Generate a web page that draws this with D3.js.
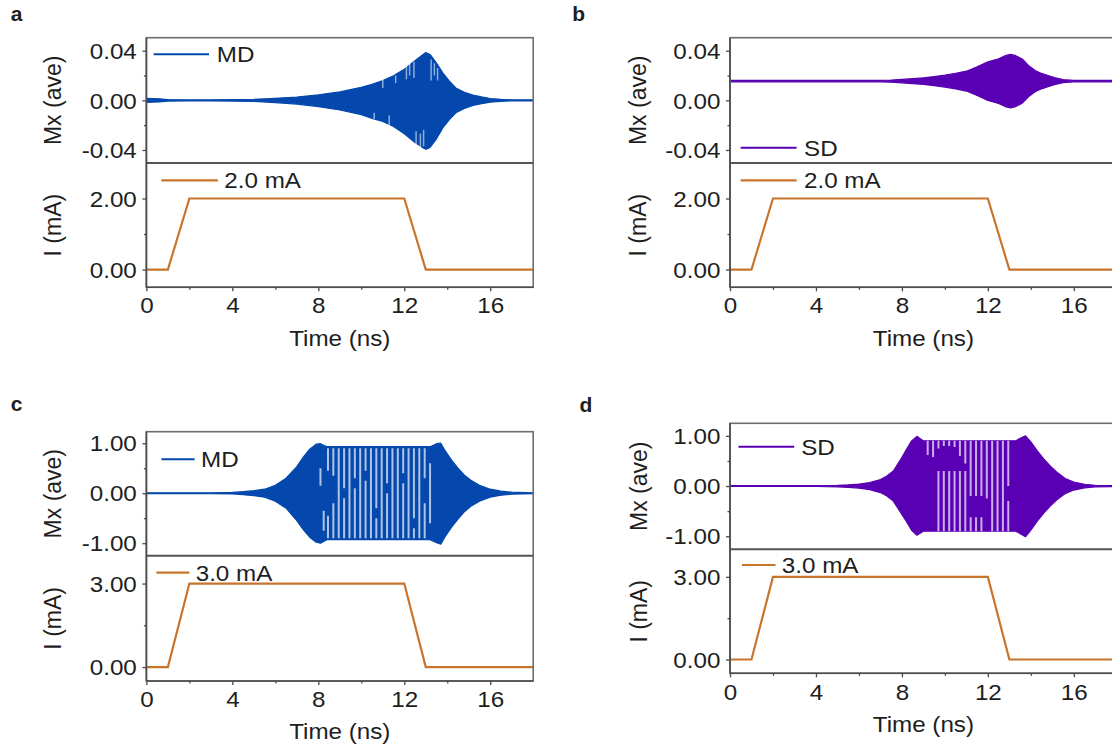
<!DOCTYPE html>
<html>
<head>
<meta charset="utf-8">
<script src="https://cdn.jsdelivr.net/npm/d3@7"></script>
<style>
  html, body { margin: 0; padding: 0; background: #fff; }
  svg { display: block; }
  text { font-family: "Liberation Sans", Arial, sans-serif; fill: #1e1e1e; }
</style>
</head>
<body>
<script>
// ---------- data ----------
const timeTicks = [0, 4, 8, 12, 16];
const timeMinorTicks = [2, 6, 10, 14];

// current pulse (mA) vs time (ns)
const currentTime = [0, 1, 2, 12, 13, 18];
const current2mA = [0, 0, 2, 2, 0, 0];
const current3mA = [0, 0, 3, 3, 0, 0];

// Mx envelopes: MD, 2.0 mA
const aTime  = [0, 0.6, 1, 2, 3, 4, 5, 6, 7, 8, 9, 10, 10.5, 11, 11.5, 12, 12.5, 12.8, 13.0, 13.2, 13.5, 13.8, 14.1, 14.4, 14.8, 15.2, 15.6, 16, 16.5, 17, 18];
const aUpper = [0.0016, 0.0013, 0.0006, 0.0004, 0.0004, 0.0006, 0.0009, 0.0016, 0.0026, 0.0045, 0.0068, 0.0105, 0.013, 0.016, 0.0198, 0.025, 0.032, 0.036, 0.0385, 0.037, 0.030, 0.022, 0.0155, 0.010, 0.0065, 0.0043, 0.0028, 0.0015, 0.0008, 0.0004, 0.0004];
const aLower = [-0.0016, -0.0013, -0.0006, -0.0004, -0.0004, -0.0006, -0.0009, -0.0018, -0.003, -0.005, -0.0078, -0.0115, -0.0145, -0.017, -0.021, -0.027, -0.034, -0.0375, -0.0395, -0.038, -0.031, -0.022, -0.0155, -0.010, -0.0065, -0.004, -0.0027, -0.0015, -0.0008, -0.0004, -0.0004];
const aStreaks = [[10.6, -0.010, -0.015], [11.0, 0.010, 0.017], [11.3, -0.012, -0.020], [11.6, 0.014, 0.020], [12.1, 0.017, 0.029], [12.25, 0.020, 0.030], [12.45, 0.018, 0.031], [12.55, -0.025, -0.036], [12.75, -0.027, -0.038], [12.9, -0.024, -0.037], [13.25, 0.016, 0.033], [13.4, 0.020, 0.030], [13.55, 0.016, 0.026]];

// Mx envelopes: SD, 2.0 mA
const bTime  = [0, 7, 7.5, 8, 8.5, 9, 9.5, 10, 10.5, 11, 11.5, 12, 12.5, 12.8, 13.05, 13.3, 13.6, 13.9, 14.2, 14.5, 14.8, 15.1, 15.5, 16, 18];
const bUpper = [0.0161, 0.0161, 0.0164, 0.0169, 0.0175, 0.0182, 0.0192, 0.0203, 0.0217, 0.0235, 0.0270, 0.0310, 0.0335, 0.0360, 0.0370, 0.0360, 0.0333, 0.0280, 0.0240, 0.0217, 0.0200, 0.0183, 0.0167, 0.0161, 0.0161];
const bLower = [0.0149, 0.0149, 0.0146, 0.0141, 0.0135, 0.0128, 0.0118, 0.0107, 0.0093, 0.0075, 0.0040, 0.0000, -0.0025, -0.0050, -0.0060, -0.0050, -0.0023, 0.0030, 0.0070, 0.0093, 0.0110, 0.0127, 0.0143, 0.0149, 0.0149];

// Mx envelopes: MD, 3.0 mA
const cTime  = [0, 3, 4, 4.5, 5, 5.5, 6, 6.5, 7, 7.3, 7.6, 7.9, 8.1, 8.4, 13.2, 13.5, 13.7, 13.9, 14.2, 14.5, 14.8, 15.1, 15.5, 16, 16.5, 17, 18];
const cUpper = [0.008, 0.008, 0.015, 0.03, 0.05, 0.08, 0.16, 0.3, 0.53, 0.72, 0.88, 0.98, 0.99, 0.93, 0.93, 0.99, 1.0, 0.85, 0.66, 0.5, 0.36, 0.26, 0.16, 0.08, 0.04, 0.02, 0.008];
const cLower = [-0.008, -0.008, -0.015, -0.03, -0.05, -0.08, -0.16, -0.3, -0.55, -0.73, -0.88, -0.98, -1.0, -0.93, -0.93, -0.99, -1.02, -0.87, -0.68, -0.52, -0.37, -0.26, -0.16, -0.08, -0.04, -0.02, -0.008];
const cStripes = [[8.1, 0.5, 0.15], [8.25, -0.35, -0.75], [8.45, 0.9, 0.45], [8.45, -0.45, -0.9], [8.7, 0.9, 0.35], [8.7, -0.2, -0.9], [8.95, 0.9, -0.9], [9.2, 0.9, 0.1], [9.2, -0.1, -0.9], [9.45, 0.9, -0.9], [9.7, 0.9, 0.3], [9.7, 0.1, -0.9], [9.95, 0.9, -0.9], [10.2, 0.9, 0.45], [10.2, 0.25, -0.9], [10.45, 0.9, -0.9], [10.7, 0.9, -0.3], [10.7, -0.5, -0.9], [10.95, 0.9, -0.9], [11.2, 0.9, 0.2], [11.2, 0.0, -0.9], [11.45, 0.9, -0.9], [11.7, 0.9, -0.9], [11.95, 0.9, 0.4], [11.95, 0.2, -0.9], [12.2, 0.9, -0.9], [12.45, 0.9, -0.5], [12.45, -0.7, -0.9], [12.7, 0.9, -0.9], [12.95, 0.9, 0.3], [12.95, -0.2, -0.9], [13.2, 0.6, -0.6]];

// Mx envelopes: SD, 3.0 mA
const dTime  = [0, 4, 5, 5.5, 6, 6.5, 7, 7.3, 7.6, 7.9, 8.2, 8.45, 8.7, 9.0, 13.3, 13.55, 13.75, 14.0, 14.3, 14.6, 14.9, 15.2, 15.6, 16, 16.5, 17, 18];
const dUpper = [0.008, 0.008, 0.015, 0.025, 0.04, 0.07, 0.13, 0.2, 0.3, 0.5, 0.72, 0.9, 0.99, 0.9, 0.9, 0.96, 1.0, 0.88, 0.7, 0.54, 0.4, 0.28, 0.15, 0.08, 0.035, 0.015, 0.008];
const dLower = [-0.008, -0.008, -0.015, -0.025, -0.04, -0.07, -0.13, -0.2, -0.3, -0.5, -0.7, -0.88, -0.98, -0.9, -0.9, -0.96, -1.01, -0.88, -0.7, -0.54, -0.4, -0.28, -0.15, -0.08, -0.035, -0.015, -0.008];
const dStripes = [[9.2, 0.9, 0.62], [9.45, 0.9, 0.58], [9.7, 0.9, 0.75], [9.7, 0.3, -0.9], [9.95, 0.9, 0.8], [9.95, 0.3, -0.9], [10.2, 0.9, 0.8], [10.2, 0.3, -0.9], [10.45, 0.9, 0.78], [10.45, 0.3, -0.9], [10.7, 0.9, 0.6], [10.7, 0.3, -0.9], [10.95, 0.9, 0.45], [10.95, 0.3, -0.9], [11.2, 0.9, -0.2], [11.2, -0.62, -0.9], [11.45, 0.9, -0.2], [11.45, -0.62, -0.9], [11.7, 0.9, -0.2], [11.7, -0.62, -0.9], [11.95, 0.9, -0.25], [12.2, 0.9, -0.9], [12.45, 0.9, -0.9], [12.7, 0.9, -0.9], [12.95, 0.9, 0.0], [12.95, -0.3, -0.9]];

// ---------- styling ----------
const BLUE = "#0448ad", PURPLE = "#5a00b4", ORANGE = "#c8742c";
const AXIS = "#4a4a4a", FRAME = "#6e6e6e";
const SX = 1.1;           // horizontal stretch of the label type
const FS = 22;            // label font size

const W = 1112, H = 753;
const svg = d3.select("body").append("svg").attr("width", W).attr("height", H);
const defs = svg.append("defs");

const panels = [
  { id: "a", x0: 146.4, top: 37.7, mid: 163, bottom: 287.3,
    mDomain: [-0.0505, 0.0505], mTicks: [-0.04, 0, 0.04], mMinor: [-0.02, 0.02],
    iDomain: [-0.5, 3.0], iTicks: [0, 2], iMinor: [1],
    time: aTime, upper: aUpper, lower: aLower, streaks: aStreaks, gapW: 1.5, gapO: 0.55,
    color: BLUE, name: "MD", current: current2mA, currentName: "2.0 mA",
    letter: [10.7, 20.5], yTitleX: 61, xTickY: 313.3, xTitleY: 346,
    sigLeg: [153.6, 209, 54.3, 216.8], curLeg: [161.4, 217.9, 180.3, 224.3] },
  { id: "b", x0: 730, top: 37.7, mid: 163, bottom: 287.3,
    mDomain: [-0.0505, 0.0505], mTicks: [-0.04, 0, 0.04], mMinor: [-0.02, 0.02],
    iDomain: [-0.5, 3.0], iTicks: [0, 2], iMinor: [1],
    time: bTime, upper: bUpper, lower: bLower, streaks: [], gapW: 1.5, gapO: 0.55,
    color: PURPLE, name: "SD", current: current2mA, currentName: "2.0 mA",
    letter: [572.3, 20.5], yTitleX: 645.5, xTickY: 313.3, xTitleY: 346,
    sigLeg: [740.6, 796.6, 147.7, 804], curLeg: [740.6, 796.6, 180.3, 804] },
  { id: "c", x0: 146.4, top: 431.7, mid: 555.7, bottom: 681,
    mDomain: [-1.25, 1.23], mTicks: [-1, 0, 1], mMinor: [-0.5, 0.5],
    iDomain: [-0.5, 4.0], iTicks: [0, 3], iMinor: [1.5],
    time: cTime, upper: cUpper, lower: cLower, streaks: cStripes, gapW: 2, gapO: 0.68,
    color: BLUE, name: "MD", current: current3mA, currentName: "3.0 mA",
    letter: [10.7, 410.7], yTitleX: 61, xTickY: 706.7, xTitleY: 739,
    sigLeg: [161.4, 194.6, 459.3, 201], curLeg: [156.4, 189.3, 572.7, 195.7] },
  { id: "d", x0: 730, top: 423.3, mid: 549.3, bottom: 673.3,
    mDomain: [-1.26, 1.25], mTicks: [-1, 0, 1], mMinor: [-0.5, 0.5],
    iDomain: [-0.5, 4.0], iTicks: [0, 3], iMinor: [1.5],
    time: dTime, upper: dUpper, lower: dLower, streaks: dStripes, gapW: 2, gapO: 0.68,
    color: PURPLE, name: "SD", current: current3mA, currentName: "3.0 mA",
    letter: [579.4, 411.7], yTitleX: 646.5, xTickY: 700, xTitleY: 732,
    sigLeg: [738.5, 794.2, 446.7, 801.2], curLeg: [742, 775.5, 565, 781.8] }
];

const PW = 386.8; // plot width in px for 0..18 ns
// tick labels use a plain hyphen for the minus sign
const fmt = d3.formatLocale({ decimal: ".", thousands: ",", grouping: [3], currency: ["", ""], minus: "-" }).format(".2f");

function stretchedText(g, x, y, str, opts = {}) {
  return g.append("text")
    .attr("transform", `translate(${x},${y}) scale(${opts.sx ?? SX},1)`)
    .attr("text-anchor", opts.anchor || "start")
    .attr("dy", opts.dy || 0)
    .style("font-size", (opts.size || FS) + "px")
    .style("font-weight", opts.weight || "normal")
    .text(str);
}

function styleAxis(sel, labelsOn) {
  sel.select(".domain").remove();
  sel.selectAll(".tick line").attr("stroke", AXIS).attr("stroke-width", 1.3);
  if (!labelsOn) sel.selectAll(".tick text").remove();
}

panels.forEach(p => {
  const g = svg.append("g").attr("class", "panel-" + p.id);
  const x = d3.scaleLinear().domain([0, 18]).range([p.x0, p.x0 + PW]);
  const yM = d3.scaleLinear().domain(p.mDomain).range([p.mid, p.top]);
  const yI = d3.scaleLinear().domain(p.iDomain).range([p.bottom, p.mid]);

  // clip regions for the two stacked plots
  defs.append("clipPath").attr("id", "clipM" + p.id).append("rect")
    .attr("x", p.x0).attr("y", p.top).attr("width", PW).attr("height", p.mid - p.top);
  defs.append("clipPath").attr("id", "clipI" + p.id).append("rect")
    .attr("x", p.x0).attr("y", p.mid).attr("width", PW).attr("height", p.bottom - p.mid);

  // Mx trace: dense oscillation drawn as its envelope
  const idx = d3.range(p.time.length);
  const area = d3.area()
    .x(i => x(p.time[i]))
    .y0(i => yM(p.lower[i]))
    .y1(i => yM(p.upper[i]));
  const sig = g.append("g").attr("clip-path", `url(#clipM${p.id})`);
  sig.append("path").datum(idx).attr("d", area)
    .attr("fill", p.color).attr("stroke", p.color).attr("stroke-width", 1.2)
    .attr("stroke-linejoin", "round");
  // light gaps between oscillation cycles
  sig.selectAll("line.gap").data(p.streaks).join("line").attr("class", "gap")
    .attr("x1", d => x(d[0])).attr("x2", d => x(d[0]))
    .attr("y1", d => yM(d[1])).attr("y2", d => yM(d[2]))
    .attr("stroke", "#ffffff").attr("stroke-opacity", p.gapO).attr("stroke-width", p.gapW);

  // current pulse
  const line = d3.line().x((d, i) => x(currentTime[i])).y(d => yI(d));
  g.append("g").attr("clip-path", `url(#clipI${p.id})`)
    .append("path").datum(p.current).attr("d", line)
    .attr("fill", "none").attr("stroke", ORANGE).attr("stroke-width", 2.2)
    .attr("stroke-linejoin", "miter");

  // frames
  g.append("rect").attr("x", p.x0).attr("y", p.top).attr("width", PW).attr("height", p.bottom - p.top)
    .attr("fill", "none").attr("stroke", FRAME).attr("stroke-width", 1.6);
  g.append("line").attr("x1", p.x0).attr("x2", p.x0 + PW).attr("y1", p.mid).attr("y2", p.mid)
    .attr("stroke", "#555").attr("stroke-width", 2);
  g.append("line").attr("x1", p.x0).attr("x2", p.x0).attr("y1", p.top).attr("y2", p.bottom)
    .attr("stroke", AXIS).attr("stroke-width", 1.6);
  g.append("line").attr("x1", p.x0).attr("x2", p.x0 + PW).attr("y1", p.bottom).attr("y2", p.bottom)
    .attr("stroke", AXIS).attr("stroke-width", 1.6);

  // y axes (ticks from d3 axes, labels in the stretched type)
  const mAxis = g.append("g").attr("transform", `translate(${p.x0},0)`)
    .call(d3.axisLeft(yM).tickValues(p.mTicks).tickSize(4).tickFormat(fmt));
  const iAxis = g.append("g").attr("transform", `translate(${p.x0},0)`)
    .call(d3.axisLeft(yI).tickValues(p.iTicks).tickSize(4).tickFormat(fmt));
  [mAxis, iAxis].forEach(ax => {
    styleAxis(ax, true);
    ax.selectAll(".tick text")
      .attr("x", -9.6 / SX).attr("dy", "0.35em")
      .attr("transform", `scale(${SX},1)`)
      .style("font-size", FS + "px").style("font-family", "'Liberation Sans', Arial, sans-serif")
      .attr("fill", "#1e1e1e");
  });
  styleAxis(g.append("g").attr("transform", `translate(${p.x0},0)`)
    .call(d3.axisLeft(yM).tickValues(p.mMinor).tickSize(2.5)), false);
  styleAxis(g.append("g").attr("transform", `translate(${p.x0},0)`)
    .call(d3.axisLeft(yI).tickValues(p.iMinor).tickSize(2.5)), false);

  // x axis
  const xAxis = g.append("g").attr("transform", `translate(0,${p.bottom})`)
    .call(d3.axisBottom(x).tickValues(timeTicks).tickSize(4).tickFormat(d3.format("d")));
  styleAxis(xAxis, true);
  xAxis.selectAll(".tick text")
    .attr("y", 0).attr("dy", 0)
    .attr("transform", `translate(0,${p.xTickY - p.bottom}) scale(${SX},1)`)
    .style("font-size", FS + "px").style("font-family", "'Liberation Sans', Arial, sans-serif")
    .attr("fill", "#1e1e1e");
  styleAxis(g.append("g").attr("transform", `translate(0,${p.bottom})`)
    .call(d3.axisBottom(x).tickValues(timeMinorTicks).tickSize(2.5)), false);

  // axis titles
  stretchedText(g, p.x0 + PW / 2, p.xTitleY, "Time (ns)", { anchor: "middle" });
  g.append("text").attr("transform", `translate(${p.yTitleX},${(p.top + p.mid) / 2}) rotate(-90)`)
    .attr("text-anchor", "middle").style("font-size", "23px").text("Mx (ave)");
  g.append("text").attr("transform", `translate(${p.yTitleX},${(p.mid + p.bottom) / 2}) rotate(-90)`)
    .attr("text-anchor", "middle").style("font-size", "23px").text("I (mA)");

  // legends
  const [sx1, sx2, sy, stx] = p.sigLeg;
  g.append("line").attr("x1", sx1).attr("x2", sx2).attr("y1", sy).attr("y2", sy)
    .attr("stroke", p.color).attr("stroke-width", 2);
  stretchedText(g, stx, sy, p.name, { dy: "0.36em" });
  const [cx1, cx2, cy, ctx] = p.curLeg;
  g.append("line").attr("x1", cx1).attr("x2", cx2).attr("y1", cy).attr("y2", cy)
    .attr("stroke", ORANGE).attr("stroke-width", 2.2);
  stretchedText(g, ctx, cy, p.currentName, { dy: "0.36em" });

  // panel letter
  stretchedText(g, p.letter[0], p.letter[1], p.id, { sx: 1, size: 21, weight: "bold" });
});
</script>
</body>
</html>
